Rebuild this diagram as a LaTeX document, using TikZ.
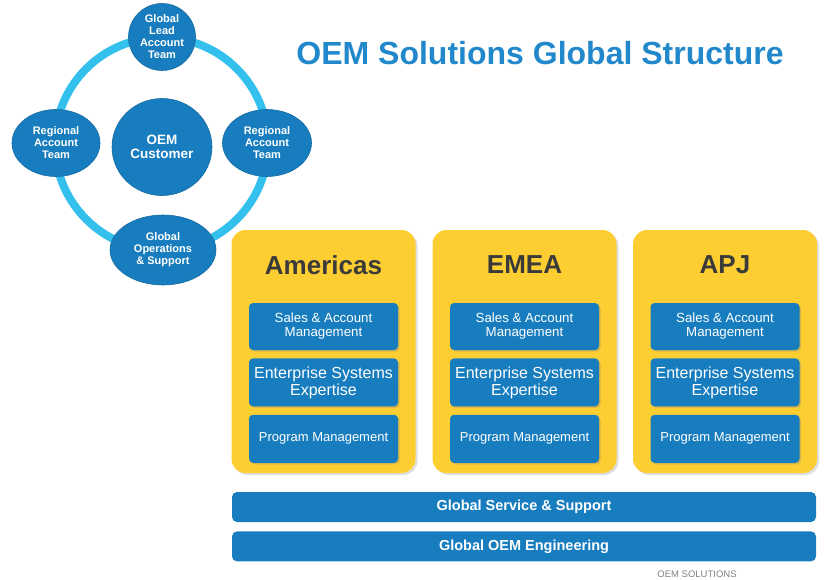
\documentclass[tikz,border=0pt]{standalone}
\usepackage{fontspec}
\setmainfont{Liberation Sans}
\usepackage {tikz}
\usetikzlibrary {positioning}
\usetikzlibrary{calc}
\usetikzlibrary{shapes.geometric,shadows}
\definecolor{oemblue}{RGB}{24,125,190}
\definecolor{ringblue}{RGB}{52,192,236}
\definecolor{regionyellow}{RGB}{252,206,50}
\definecolor{titleblue}{RGB}{34,136,204}
\definecolor{headgray}{RGB}{58,58,58}
\begin{document}
\begin{tikzpicture}[x=1pt,y=-1pt, team node/.style={shape=ellipse,fill=oemblue,draw=oemblue!85!black,line width=0.6pt,inner sep=0,text=white,align=center,font=\bfseries\fontsize{11}{12}\selectfont}, region node/.style={shape=rectangle,rounded corners=14pt,fill=regionyellow,minimum width=184pt,minimum height=243pt,drop shadow={opacity=0.25,shadow xshift=2pt,shadow yshift=-2pt}}, task node/.style={shape=rectangle,rounded corners=4pt,fill=oemblue,text=white,align=center,minimum width=149pt,inner sep=0,drop shadow={opacity=0.3,shadow xshift=1.5pt,shadow yshift=-1.5pt}}, bar node/.style={shape=rectangle,rounded corners=5pt,fill=oemblue,text=white,minimum width=584pt,minimum height=30pt,font=\bfseries\fontsize{14.5}{16}\selectfont}, ]
		\useasboundingbox (0,0) rectangle (827,580);
		%ring of teams
		\coordinate (ring) at (161.5,144);
		\draw[ringblue,line width=8pt] (ring) circle (106.5pt);
		\node[team node,minimum width=100pt,minimum height=97pt,font=\bfseries\fontsize{13.5}{14}\selectfont] (cust) at (162,147){OEM\\Customer};
		\node[team node,minimum width=67pt,minimum height=67pt] (glead) at (162,37){Global\\Lead\\Account\\Team};
		\node[team node,minimum width=88pt,minimum height=67pt] (regl) at (56,143){Regional\\Account\\Team};
		\node[team node,minimum width=89pt,minimum height=67pt] (regr) at (267,143){Regional\\Account\\Team};
		\node[team node,minimum width=106pt,minimum height=70pt] (gops) at (163,250){Global\\Operations\\\& Support};
		
		\node[text=titleblue,font=\bfseries\fontsize{32}{36}\selectfont] (title) at (540,53){OEM Solutions Global Structure};
		
		%regions
		\foreach \name/\label/\xc in {amer/Americas/323.5,emea/EMEA/524.5,apj/APJ/725}
		{
			\node[region node] (\name) at (\xc,351.5){};
			\node[text=headgray,font=\bfseries\fontsize{26}{28}\selectfont] (\name-head) at (\xc,265){\label};
			\node[task node,minimum height=47pt,font=\fontsize{13.3}{14}\selectfont] (\name-sales) at (\xc,326.5){Sales \& Account\\Management};
			\node[task node,minimum height=48pt,font=\fontsize{16}{17}\selectfont,below=8pt of \name-sales] (\name-ent){Enterprise Systems\\Expertise};
			\node[task node,minimum height=48pt,font=\fontsize{13}{14}\selectfont,below=8pt of \name-ent] (\name-prog){Program Management};
		}
		
		%global bars
		\node[bar node] (service) at (524,507){Global Service \& Support};
		\node[bar node,below=9pt of service] (eng){Global OEM Engineering};
		\node[text=black!50,font=\fontsize{9.5}{10}\selectfont] (footer) at (697,574){OEM SOLUTIONS};
		
\end{tikzpicture}
\end{document}
